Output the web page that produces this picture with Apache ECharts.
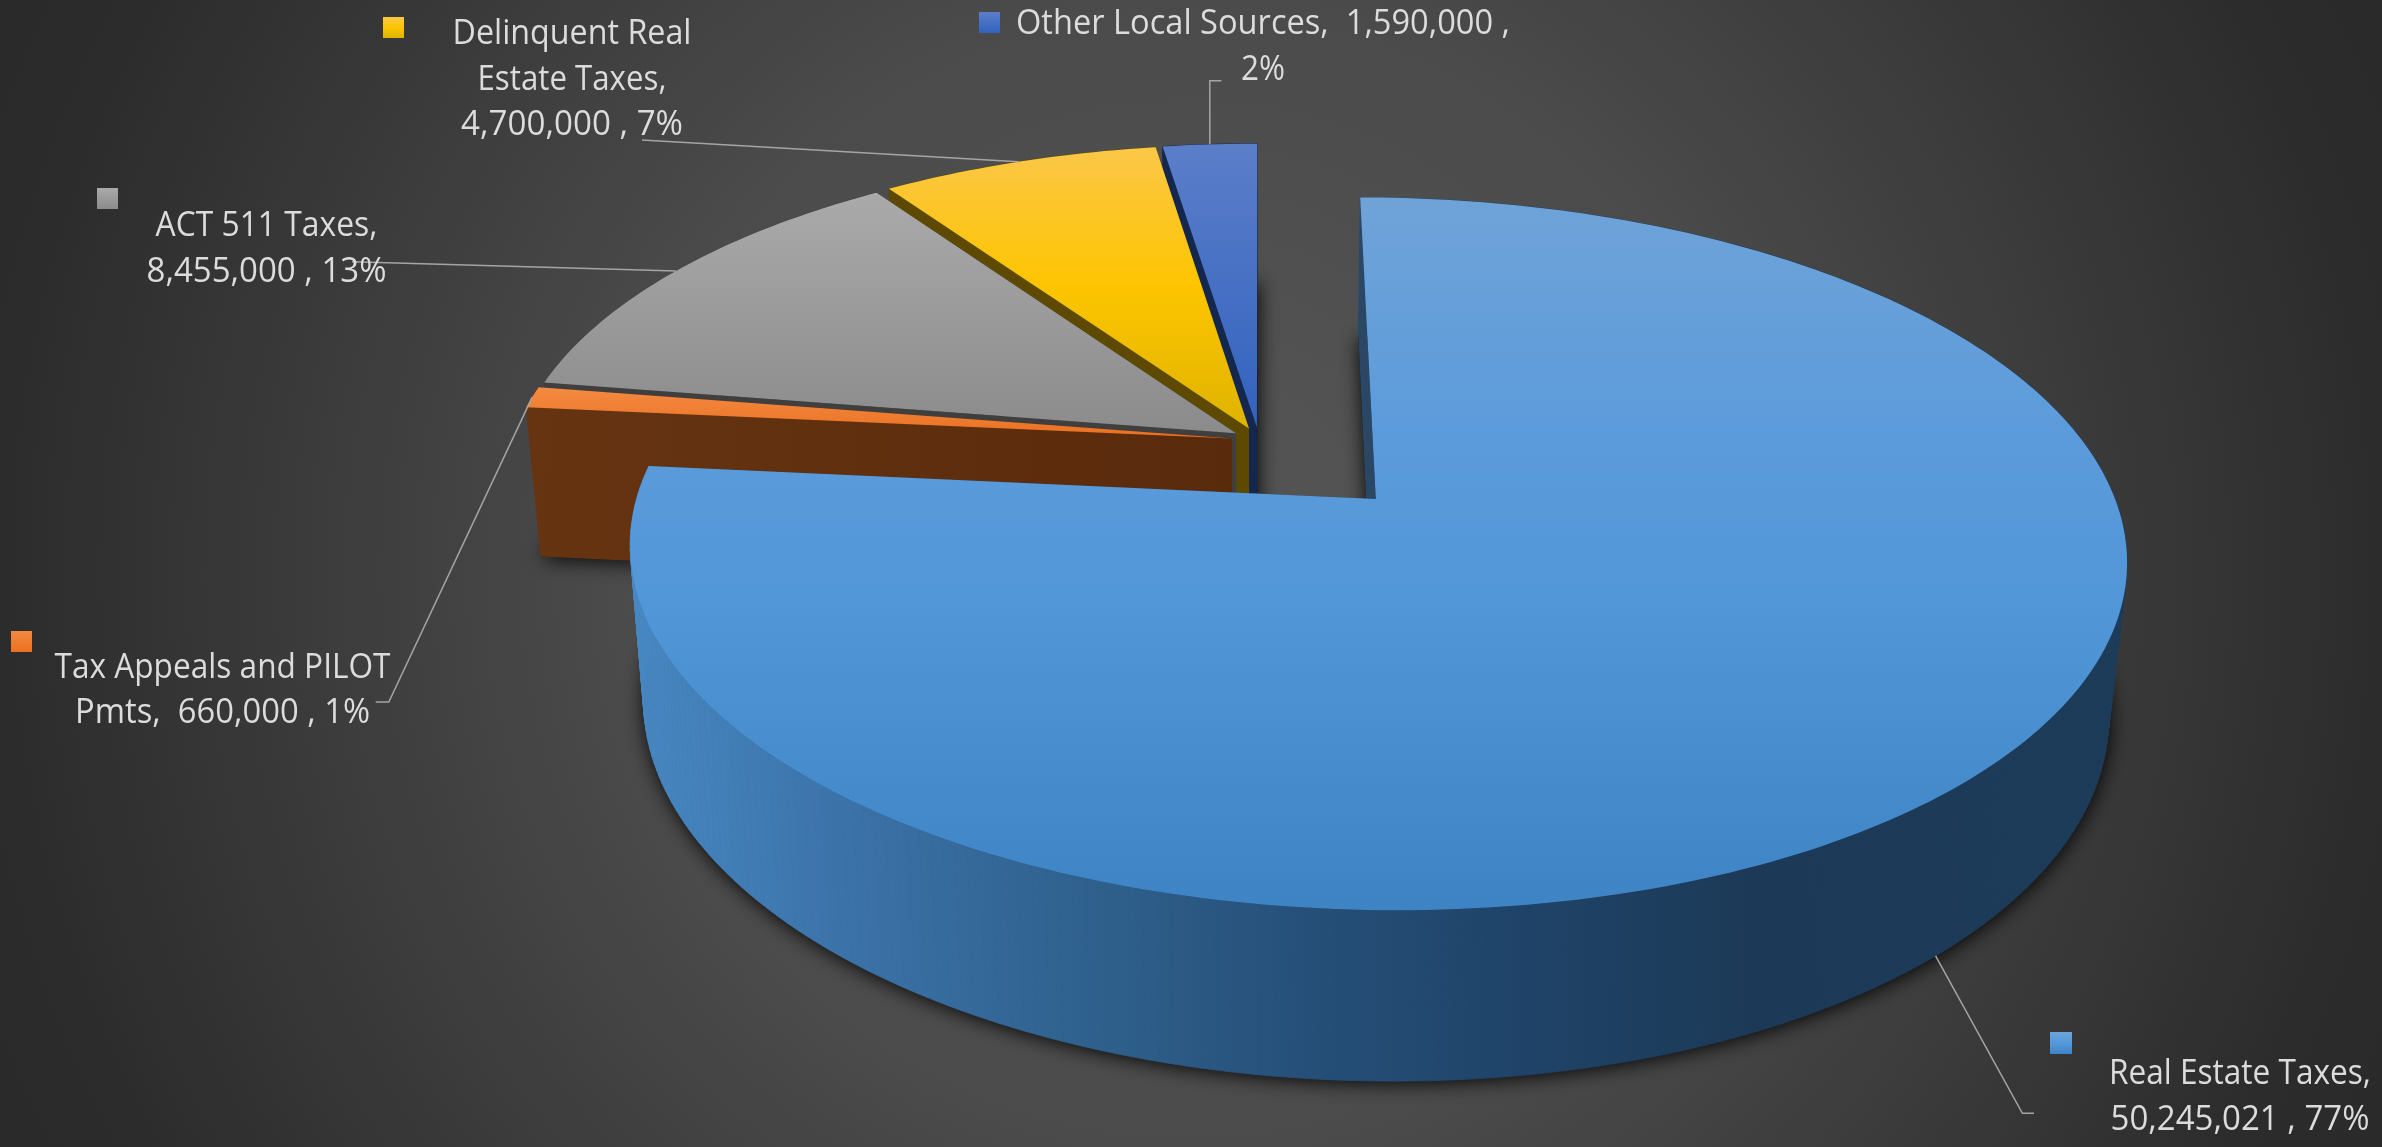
<!DOCTYPE html>
<html>
<head>
<meta charset="utf-8">
<style>html,body{margin:0;padding:0;background:#333}#chart{width:2382px;height:1147px}</style>
<script src="https://cdn.jsdelivr.net/npm/echarts@6/dist/echarts.min.js"></script>
</head>
<body>
<div id="chart"></div>
<script>
// Local revenue by source, drawn clockwise from twelve o'clock
const categories = ['Real Estate Taxes', 'Tax Appeals and PILOT Pmts', 'ACT 511 Taxes', 'Delinquent Real Estate Taxes', 'Other Local Sources'];
const values = [50245021, 660000, 8455000, 4700000, 1590000];
const explode = [0.235, 0.038, 0.038, 0.038, 0.038];

// Wrapped label text; {v} and {p} are filled in from the values
const labelLines = [
  ['Real Estate Taxes,', '{v} , {p}'],
  ['Tax Appeals and PILOT', 'Pmts,  {v} , {p}'],
  ['ACT 511 Taxes,', '{v} , {p}'],
  ['Delinquent Real', 'Estate Taxes,', '{v} , {p}'],
  ['Other Local Sources,  {v} ,', '{p}']
];

// Label placement: text centre, baselines and line widths, legend key box, leader route
const labelCenterX = [2240, 222.5, 266.5, 572, 1263];
const labelBaselines = [[1085, 1131], [679, 724], [237, 282.7], [45, 90.7, 136], [35, 80.7]];
const labelWidths = [[262, 259], [336, 295], [222, 240], [239, 189, 222], [494, 44]];
const keyBoxes = [[2050, 1032, 22, 22], [11, 631, 21, 21], [97, 188, 21, 21], [383, 17, 21, 21], [979, 12, 21, 21]];
const leaderRoutes = [[[2022.4, 1113.3], [2034, 1113.3]], [[388.8, 702], [375.7, 702]], [[352, 261.7]], [[642, 140]], [[1209.8, 80.7], [1221.4, 80.7]]];
const leaderDepth = [1, 0, 0, 0, 0];

// Perspective camera for the disc
const view = { px: 1259, py: 440, a: 720, b: 330, k: 0.15, drop: 154, shrink: 0.0206 };
const arcStep = 1;

// Slice colours
const topStops = [
  [[0, '#6fa3d8'], [0.33, '#5c9bdb'], [0.6, '#5096d7'], [1, '#3e84c5']],
  [[0, '#f48a42'], [1, '#ea7020']],
  [[0, '#aaaaaa'], [1, '#8b8b8b']],
  [[0, '#fbc748'], [0.5, '#fdc500'], [1, '#dfb300']],
  [[0, '#5b7ec9'], [1, '#3262bf']]
];
const sideColors = ['#2a4766', '#60300f', '#3f3f3f', '#5e4900', '#14284f'];
const rimColors = ['', '#663411', '#3f3f3f', '#5e4900', '#14284f'];
const rimStops = [[0, '#4889c4'], [0.15, '#3b72a8'], [0.3, '#30628f'], [0.45, '#265079'], [0.6, '#1f4368'], [0.75, '#1c3a57'], [1, '#1d3c5a']];
const brownStops = [[0, '#663411'], [1, '#592a0c']];

const total = values.reduce((s, v) => s + v, 0);
const rad = d => d * Math.PI / 180;
const startDeg = [];
values.reduce((acc, v, i) => { startDeg[i] = acc; return acc + v / total * 360; }, 0);
const endDeg = values.map((v, i) => startDeg[i] + v / total * 360);
const midDeg = values.map((v, i) => (startDeg[i] + endDeg[i]) / 2);

// Ground-plane offset of a slice: pulled out along its bisector
function offset(i) {
  const m = rad(midDeg[i]);
  return [explode[i] * Math.sin(m), -explode[i] * Math.cos(m)];
}
// Project a ground point onto the screen; depth 0 is the top face, 1 the bottom face
function project(u, v, depth) {
  const w = 1 - view.k * v + view.shrink * depth;
  return [view.px + view.a * u / w, view.py + (view.b * v + view.drop * depth) / w];
}
function rimPoint(i, deg, depth) {
  const o = offset(i), t = rad(deg);
  return project(o[0] + Math.sin(t), o[1] - Math.cos(t), depth);
}
function apexPoint(i, depth) {
  const o = offset(i);
  return project(o[0], o[1], depth);
}
function arc(i, depth) {
  const pts = [];
  for (let d = startDeg[i]; d < endDeg[i]; d += arcStep) pts.push(rimPoint(i, d, depth));
  pts.push(rimPoint(i, endDeg[i], depth));
  return pts;
}
const vertical = stops => new echarts.graphic.LinearGradient(0, 0, 0, 1, stops.map(s => ({ offset: s[0], color: s[1] })));
const horizontal = stops => new echarts.graphic.LinearGradient(0, 0, 1, 0, stops.map(s => ({ offset: s[0], color: s[1] })));
const polygon = (points, fill, extra) => ({ type: 'polygon', shape: { points }, style: Object.assign({ fill }, extra || {}) });

function renderShadow(params, api) {
  const i = api.value(0);
  return polygon([apexPoint(i, 1)].concat(arc(i, 1)), '#161616', {
    shadowBlur: 20, shadowColor: 'rgba(0,0,0,0.95)', shadowOffsetX: 1, shadowOffsetY: 2
  });
}

function renderSlice(params, api) {
  const i = api.value(0);
  const top = arc(i, 0), bottom = arc(i, 1);
  const rimFill = i === 0
    ? new echarts.graphic.LinearGradient(620, 0, 2130, 0, rimStops.map(s => ({ offset: s[0], color: s[1] })), true)
    : rimColors[i];
  const sideFill = i === 1 ? horizontal(brownStops) : sideColors[i];
  const a0 = apexPoint(i, 0), a1 = apexPoint(i, 1);
  // The rim is laid down as narrow facets so its silhouette follows the tangent between the two faces
  const children = [];
  for (let n = 0; n + 1 < top.length; n++) {
    children.push(polygon([top[n], top[n + 1], bottom[n + 1], bottom[n]], rimFill, { stroke: rimFill, lineWidth: 0.8 }));
  }
  children.push(polygon([a0, top[0], bottom[0], a1], sideFill));
  children.push(polygon([a0, top[top.length - 1], bottom[bottom.length - 1], a1], sideFill));
  children.push(polygon([a0].concat(top), vertical(topStops[i])));
  return { type: 'group', children };
}

const measure = document.createElement('canvas').getContext('2d');
const labelFont = '35px "Open Sans"';
measure.font = labelFont;

function renderLabel(params, api) {
  const i = api.value(0);
  const amount = values[i].toLocaleString('en-US');
  const share = Math.round(values[i] / total * 100) + '%';
  const children = [];
  const key = keyBoxes[i];
  children.push({
    type: 'rect',
    shape: { x: key[0], y: key[1], width: key[2], height: key[3] },
    style: { fill: vertical(topStops[i]) }
  });
  const anchor = rimPoint(i, midDeg[i], leaderDepth[i]);
  children.push({
    type: 'polyline',
    shape: { points: [anchor].concat(leaderRoutes[i]) },
    style: { fill: null, stroke: '#a5a5a5', lineWidth: 1.5 }
  });
  labelLines[i].forEach((tpl, n) => {
    const text = tpl.replace('{v}', amount).replace('{p}', share);
    const scale = labelWidths[i][n] / measure.measureText(text).width;
    children.push({
      type: 'text',
      x: labelCenterX[i],
      y: labelBaselines[i][n] - 10.5,
      scaleX: scale,
      style: {
        text,
        font: labelFont,
        fill: '#dcdcdc',
        textAlign: 'center',
        textVerticalAlign: 'middle'
      }
    });
  });
  return { type: 'group', children };
}

// Far slices are painted first so nearer ones overlap them
const paintOrder = [4, 3, 2, 1, 0];
const rows = paintOrder.map(i => [i, values[i], categories[i]]);

const chart = echarts.init(document.getElementById('chart'), null, { renderer: 'canvas' });
chart.setOption({
  animation: false,
  graphic: [{
    type: 'rect',
    z: -100,
    silent: true,
    shape: { x: 0, y: 0, width: 2382, height: 1147 },
    style: {
      fill: new echarts.graphic.RadialGradient(1191, 573, 1320, [
        { offset: 0, color: '#565656' },
        { offset: 0.43, color: '#4b4b4b' },
        { offset: 0.9, color: '#2c2c2c' },
        { offset: 1, color: '#2a2a2a' }
      ], true)
    }
  }],
  series: [
    { type: 'custom', coordinateSystem: 'none', z: 1, silent: true, data: rows, renderItem: renderShadow },
    { type: 'custom', coordinateSystem: 'none', z: 2, silent: true, data: rows, renderItem: renderSlice },
    { type: 'custom', coordinateSystem: 'none', z: 3, silent: true, data: rows, renderItem: renderLabel }
  ]
});
</script>
</body>
</html>
